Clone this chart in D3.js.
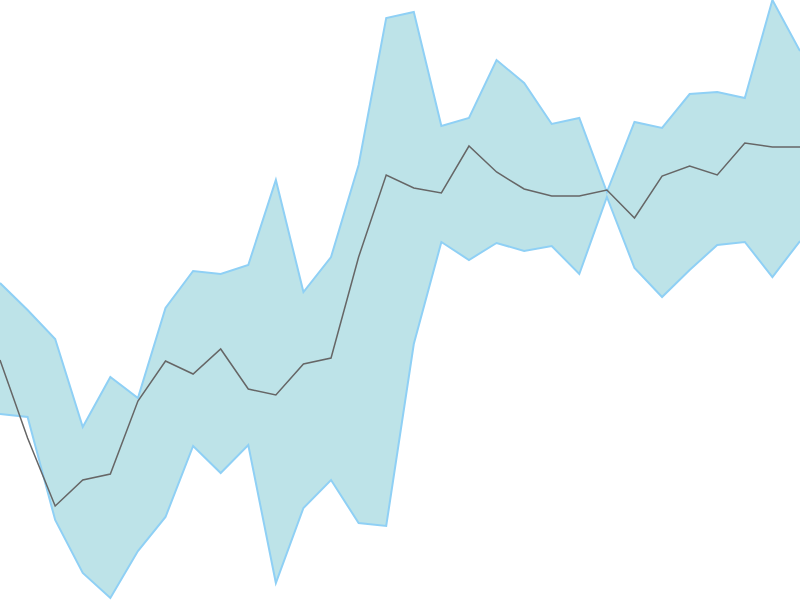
<!DOCTYPE html>
<html>
<head>
<meta charset="utf-8">
<script src="https://cdn.jsdelivr.net/npm/d3@7"></script>
<style>
  html, body { margin: 0; padding: 0; background: #fff; }
  svg { display: block; }
</style>
</head>
<body>
<div class="canvas"></div>
<script>
// band values (upper / lower) and the middle series, one per step
const upper = [317, 290, 261, 173, 223, 202, 292, 329, 326, 335, 420, 308, 343, 435, 582,
  588, 474, 482, 540, 517, 476, 482, 408, 478, 472, 506, 508, 502, 600, 549];
const lower = [186, 183, 80, 27, 2, 49, 83, 154, 127, 155, 17, 92, 120, 77, 74,
  256, 358, 340, 357, 349, 354, 326, 403, 332, 303, 330, 355, 358, 323, 359];
const middle = [240, 162, 94, 120, 126, 199, 239, 226, 251, 211, 205, 236, 242, 343, 425,
  412, 407, 454, 428, 411, 404, 404, 410, 382, 424, 434, 425, 457, 453, 453];

// set up dimensions
const width = 800;
const height = 600;

const svg = d3
  .select('.canvas')
  .append('svg')
  .attr('width', width)
  .attr('height', height);

const data = upper.map((u, i) => ({ i, upper: u, lower: lower[i], middle: middle[i] }));

const x = d3.scaleLinear().domain([0, data.length - 1]).range([0, width]);
const y = d3.scaleLinear().domain([0, 600]).range([height, 0]);

// shaded band
const area = d3
  .area()
  .x(d => x(d.i))
  .y0(d => y(d.lower))
  .y1(d => y(d.upper));

svg
  .append('path')
  .datum(data)
  .attr('fill', '#bde3e8')
  .attr('stroke', 'none')
  .attr('d', area);

// band edges
const edge = key => d3.line().x(d => x(d.i)).y(d => y(d[key]));

['upper', 'lower'].forEach(key => {
  svg
    .append('path')
    .datum(data)
    .attr('fill', 'none')
    .attr('stroke', '#8fd0f5')
    .attr('stroke-width', 2)
    .attr('d', edge(key));
});

// middle line
svg
  .append('path')
  .datum(data)
  .attr('fill', 'none')
  .attr('stroke', '#666')
  .attr('stroke-width', 1.5)
  .attr('d', edge('middle'));
</script>
</body>
</html>
